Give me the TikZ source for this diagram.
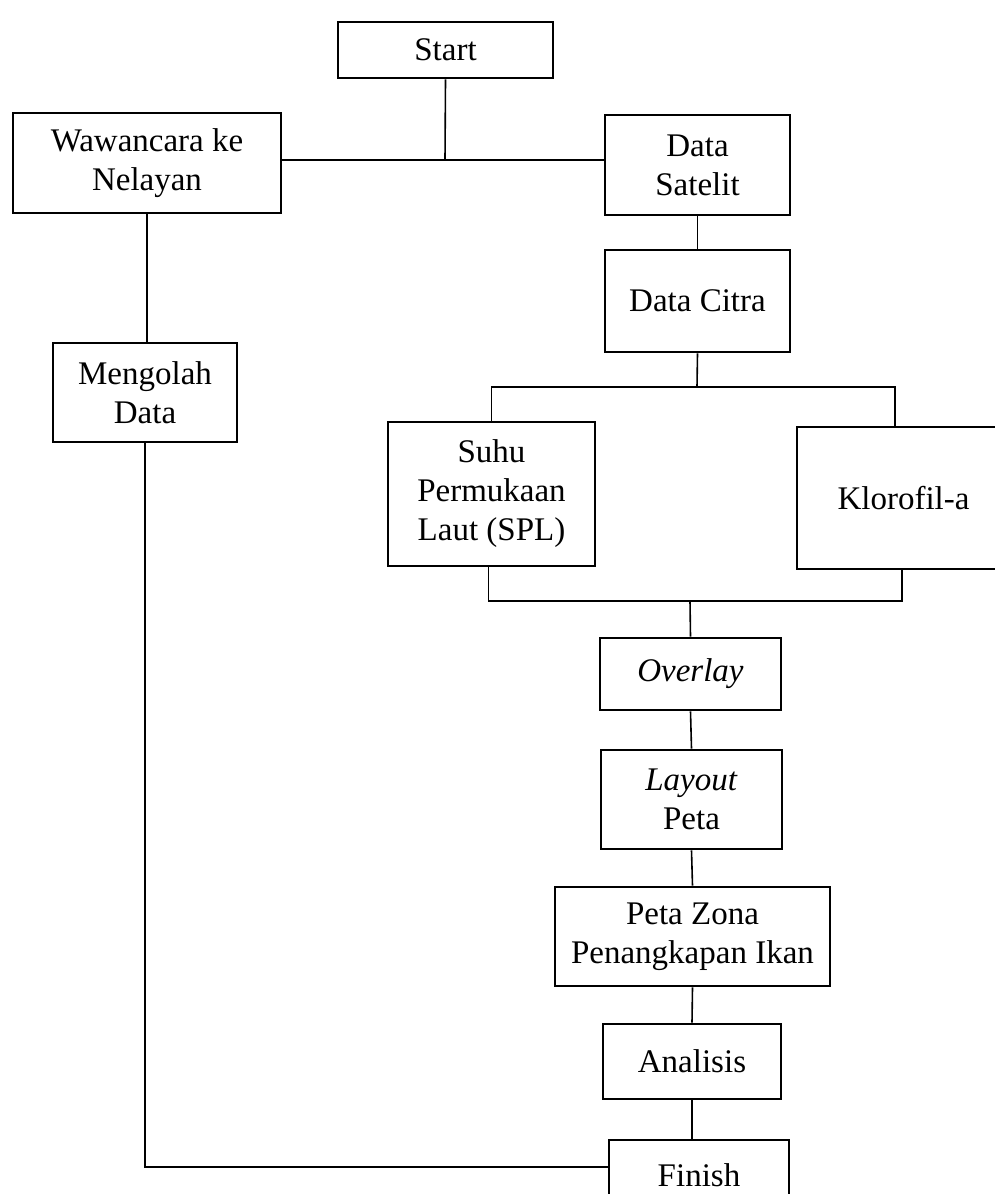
\documentclass[tikz,border=0pt]{standalone}
\usepackage{fontspec}
\setmainfont{Liberation Serif}
\usetikzlibrary{calc}
\begin{document}
\begin{tikzpicture}[x=1pt,y=-1pt,
  box/.style={draw=black, line width=2.8pt, inner sep=0pt, align=center,
    font=\fontsize{33}{39}\selectfont},
  conn/.style={draw=black, line width=1.6pt}]
\useasboundingbox (0,0) rectangle (994,1194);
\node[box, minimum width=215pt, minimum height=56pt] (start) at (445.5,50) {Start};
\node[box, minimum width=268pt, minimum height=100pt] (waw) at (147,163) {Wawancara ke\\Nelayan};
\node[box, minimum width=185pt, minimum height=100pt] (sat) at (697.5,165) {Data\\Satelit};
\node[box, minimum width=184pt, minimum height=99pt] (olah) at (145,392.5) {Mengolah\\Data};
\node[box, minimum width=185pt, minimum height=102pt] (citra) at (697.5,301) {Data Citra};
\node[box, minimum width=207pt, minimum height=144pt] (suhu) at (491.5,494) {Suhu\\Permukaan\\Laut (SPL)};
\node[box, minimum width=213pt, minimum height=142pt] (klor) at (903.5,498) {Klorofil-a};
\node[box, minimum width=181pt, minimum height=72pt] (over) at (690.5,674) {\textit{Overlay}};
\node[box, minimum width=181pt, minimum height=99pt] (lay) at (691.5,799.5) {\textit{Layout}\\Peta};
\node[box, minimum width=275pt, minimum height=99pt] (zona) at (692.5,936.5) {Peta Zona\\Penangkapan Ikan};
\node[box, minimum width=178pt, minimum height=75pt] (anal) at (692,1061.5) {Analisis};
\node[box, minimum width=180pt, minimum height=70pt] (fin) at (699,1175) {Finish};

\coordinate (j1) at (445,160);
\coordinate (j2) at (697,387);
\coordinate (j3) at (690,601);
\coordinate (j4) at (147,1167);

\draw[conn] (start.south) -- (j1);
\draw[conn] (j1 -| waw.east) -- (j1 -| sat.west);
\draw[conn] (waw.south) -- (waw.south |- olah.north);
\draw[conn] (sat.south) -- (citra.north);
\draw[conn] (citra.south) -- (j2);
\draw[conn] (suhu.north) |- (j2) -| ($(klor.north)+(-8.5,0)$);
\draw[conn] ($(suhu.south)+(-3,0)$) -- ($(suhu.south |- j3)+(-3,0)$) -- ($(klor.south |- j3)+(-1.5,0)$) -- ($(klor.south)+(-1.5,0)$);
\draw[conn] (j3) -- (over.north);
\draw[conn] (over.south) -- (lay.north);
\draw[conn] (lay.south) -- (zona.north);
\draw[conn] (zona.south) -- (anal.north);
\draw[conn] (anal.south) -- (anal.south |- fin.north);
\draw[conn] (olah.south) -- (olah.south |- j4) -- (fin.west |- j4);
\end{tikzpicture}
\end{document}
